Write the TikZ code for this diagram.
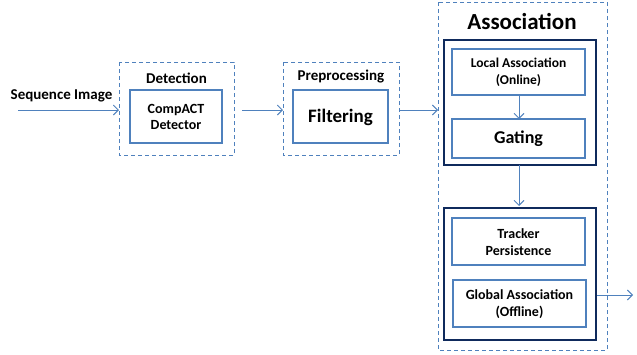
\documentclass[tikz,border=0pt]{standalone}
\usepackage{fontspec}
\setmainfont{Carlito}
\usetikzlibrary{arrows.meta}
\definecolor{lblue}{HTML}{4F81BD}
\definecolor{navy}{HTML}{0F2A5C}
\tikzset{
  dashbox/.style={draw=lblue, dashed, dash pattern=on 4pt off 3pt, line width=0.8pt},
  inbox/.style={draw=lblue, line width=2pt, fill=white},
  outbox/.style={draw=navy, line width=2.6pt},
  conn/.style={draw=lblue, line width=0.9pt, -{Straight Barb[length=5pt,width=10pt]}},
  lbl/.style={font=\bfseries, align=center, inner sep=0pt}
}
\begin{document}
\begin{tikzpicture}[x=1pt,y=-1pt]
\useasboundingbox (0,0) rectangle (637,354);
% Detection
\draw[dashbox] (119,62) rectangle (234,155);
\node[lbl, font=\bfseries\fontsize{15}{17}\selectfont] (dett) at (176.5,78) {Detection};
\draw[inbox] (130,90) rectangle (222,143);
\node[lbl, font=\bfseries\fontsize{14}{16.5}\selectfont] (det) at (176,117) {CompACT\\Detector};
\coordinate (detL) at (119,110);
\coordinate (detR) at (242,110);
% input
\node[lbl, font=\bfseries\fontsize{15}{17}\selectfont] (seq) at (61.5,96) {Sequence Image};
\coordinate (seqS) at (18,110);
% Preprocessing
\draw[dashbox] (283,62) rectangle (399,155);
\node[lbl, font=\bfseries\fontsize{15}{17}\selectfont] (pret) at (341,77) {Preprocessing};
\draw[inbox] (293,90) rectangle (388,143);
\node[lbl, font=\bfseries\fontsize{19}{21}\selectfont] (filt) at (340.5,117) {Filtering};
\coordinate (preL) at (283,110);
\coordinate (preR) at (399,110);
% Association
\draw[dashbox] (438,2) rectangle (607,350);
\node[lbl, font=\bfseries\fontsize{23}{26}\selectfont] (asst) at (522,21) {Association};
\coordinate (assL) at (438,110);
\draw[outbox] (444,40) rectangle (596,165);
\draw[inbox] (452,49) rectangle (585,95);
\node[lbl, font=\bfseries\fontsize{13.5}{17}\selectfont] (loc) at (518.5,72) {Local Association\\(Online)};
\draw[inbox] (452,119) rectangle (585,158);
\node[lbl, font=\bfseries\fontsize{18}{20}\selectfont] (gat) at (518.5,139) {Gating};
\coordinate (locB) at (519,95);
\coordinate (gatT) at (519,119);
\coordinate (box1B) at (519,165);
\coordinate (box2T) at (519,206);
\draw[outbox] (444,208) rectangle (596,340);
\draw[inbox] (452,218) rectangle (585,265);
\node[lbl, font=\bfseries\fontsize{14}{17}\selectfont] (trk) at (518.5,242) {Tracker\\Persistence};
\draw[inbox] (453,280) rectangle (586,327);
\node[lbl, font=\bfseries\fontsize{14}{17}\selectfont] (glob) at (519.5,304) {Global Association\\(Offline)};
\coordinate (box2R) at (597,295);
\coordinate (outE) at (633,295);
% connectors
\draw[conn] (seqS) -- (detL);
\draw[conn] (detR) -- (preL);
\draw[conn] (preR) -- (assL);
\draw[conn] (locB) -- (gatT);
\draw[conn] (box1B) -- (box2T);
\draw[conn] (box2R) -- (outE);
\end{tikzpicture}
\end{document}
